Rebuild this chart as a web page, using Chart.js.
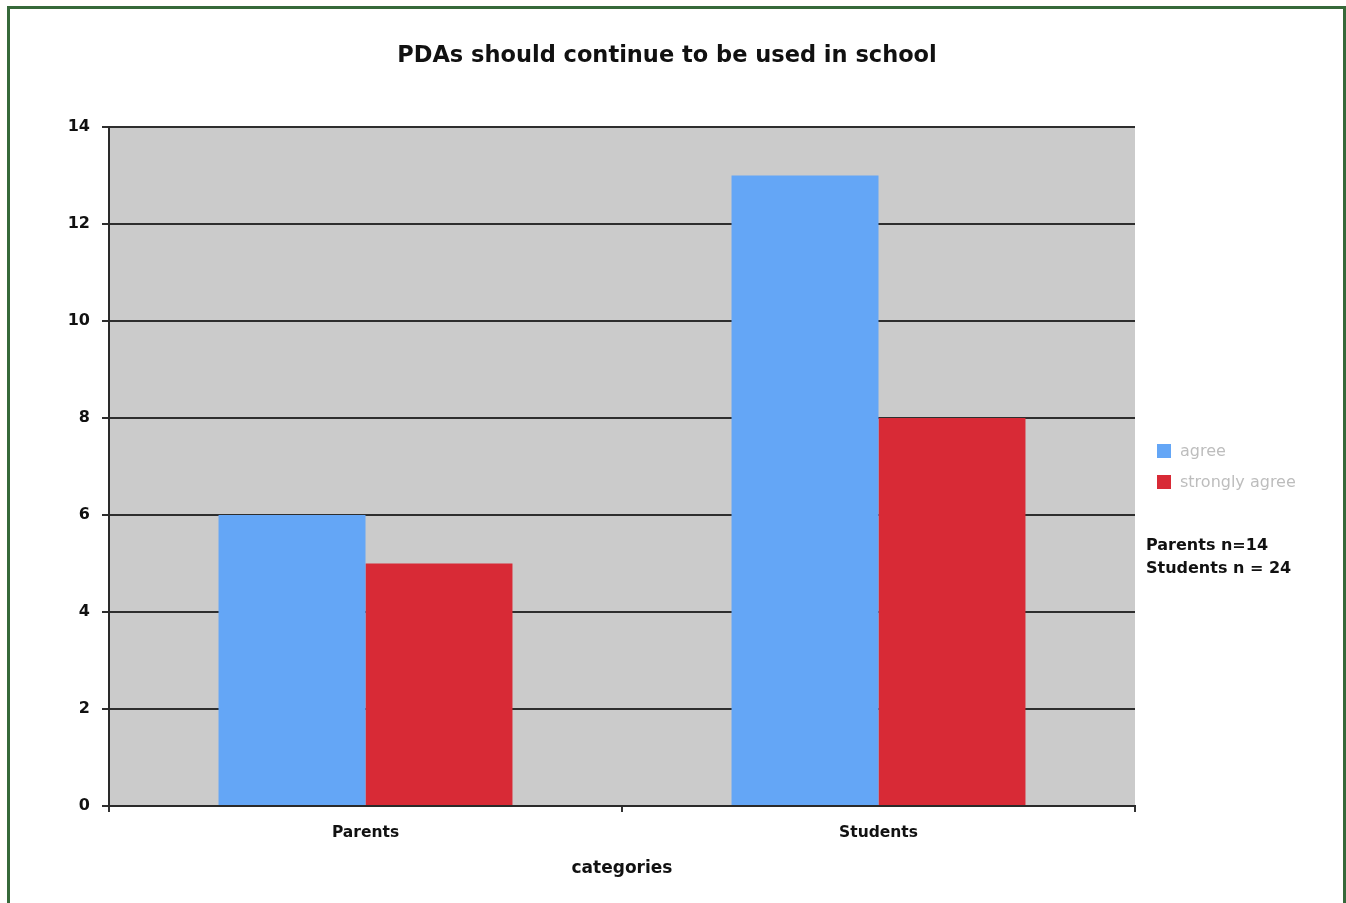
<!DOCTYPE html>
<html>
<head>
<meta charset="utf-8">
<script src="https://cdn.jsdelivr.net/npm/chart.js@4/dist/chart.umd.min.js"></script>
<style>
  html, body { margin: 0; padding: 0; background: #ffffff; }
  #wrap { position: relative; width: 1346px; height: 903px; overflow: hidden; }
  #frame { position: absolute; left: 7px; top: 6px; width: 1333px; height: 920px;
           border: 3px solid #36693a; box-sizing: content-box; pointer-events: none; }
  canvas { position: absolute; left: 0; top: 0; }
</style>
</head>
<body>
<div id="wrap">
  <canvas id="chart" width="1346" height="903"></canvas>
  <div id="frame"></div>
</div>
<script>
const categories = ["Parents", "Students"];
const seriesNames = ["agree", "strongly agree"];
const agreeValues = [6, 13];
const stronglyAgreeValues = [5, 8];
const seriesColors = ["#64a6f6", "#d82a36"];
const sampleNotes = ["Parents n=14", "Students n = 24"];
const chartTitle = "PDAs should continue to be used in school";
const xAxisTitle = "categories";

const FONT = "'DejaVu Sans', Verdana, sans-serif";

// grey plot background behind the bars
const plotBackground = {
  id: "plotBackground",
  beforeDraw(chart) {
    const { ctx, chartArea: a } = chart;
    ctx.save();
    ctx.fillStyle = "#cbcbcb";
    ctx.fillRect(a.left, a.top, a.right - a.left, a.bottom - a.top);
    ctx.restore();
  }
};

// title centred on the whole frame, legend and sample-size notes on the right
const frameText = {
  id: "frameText",
  afterDraw(chart) {
    const { ctx } = chart;
    ctx.save();
    ctx.textBaseline = "middle";
    ctx.textAlign = "center";
    ctx.fillStyle = "#111111";
    ctx.font = "bold 22.5px " + FONT;
    ctx.fillText(chartTitle, 667, 56);

    ctx.textAlign = "left";
    chart.data.datasets.forEach((ds, i) => {
      const y = 451 + i * 31;
      ctx.fillStyle = ds.backgroundColor;
      ctx.fillRect(1157, y - 7, 14, 14);
      ctx.fillStyle = "#bdbdbd";
      ctx.font = "16px " + FONT;
      ctx.fillText(ds.label, 1180, y + 1);
    });
    ctx.fillStyle = "#111111";
    ctx.font = "bold 16px " + FONT;
    sampleNotes.forEach((t, i) => ctx.fillText(t, 1146, 546 + i * 23));
    ctx.restore();
  }
};

new Chart(document.getElementById("chart"), {
  type: "bar",
  data: {
    labels: categories,
    datasets: [
      { label: seriesNames[0], data: agreeValues, backgroundColor: seriesColors[0] },
      { label: seriesNames[1], data: stronglyAgreeValues, backgroundColor: seriesColors[1] }
    ]
  },
  options: {
    responsive: false,
    animation: false,
    layout: { padding: { left: 0, right: 211, top: 127, bottom: 0 } },
    datasets: { bar: { categoryPercentage: 0.573, barPercentage: 1.0 } },
    plugins: {
      legend: { display: false },
      tooltip: { enabled: false },
      title: { display: false }
    },
    scales: {
      x: {
        afterFit(s) { s.height = 97; },
        grid: { display: true, drawOnChartArea: false, color: "#333333", lineWidth: 2, tickLength: 6 },
        border: { display: true, color: "#2a2a2a", width: 2 },
        ticks: { color: "#111111", font: { family: FONT, size: 15.5, weight: "bold" }, padding: 12 },
        title: {
          display: true, text: xAxisTitle, color: "#111111",
          font: { family: FONT, size: 17, weight: "bold" },
          padding: { top: 0, bottom: 24 }
        }
      },
      y: {
        min: 0, max: 14,
        afterFit(s) { s.width = 109; },
        grid: { color: "#2e2e2e", lineWidth: 2, tickLength: 7 },
        border: { display: true, color: "#2a2a2a", width: 2 },
        ticks: { stepSize: 2, color: "#111111", font: { family: FONT, size: 16, weight: "bold" }, padding: 12 }
      }
    }
  },
  plugins: [plotBackground, frameText]
});
</script>
</body>
</html>
